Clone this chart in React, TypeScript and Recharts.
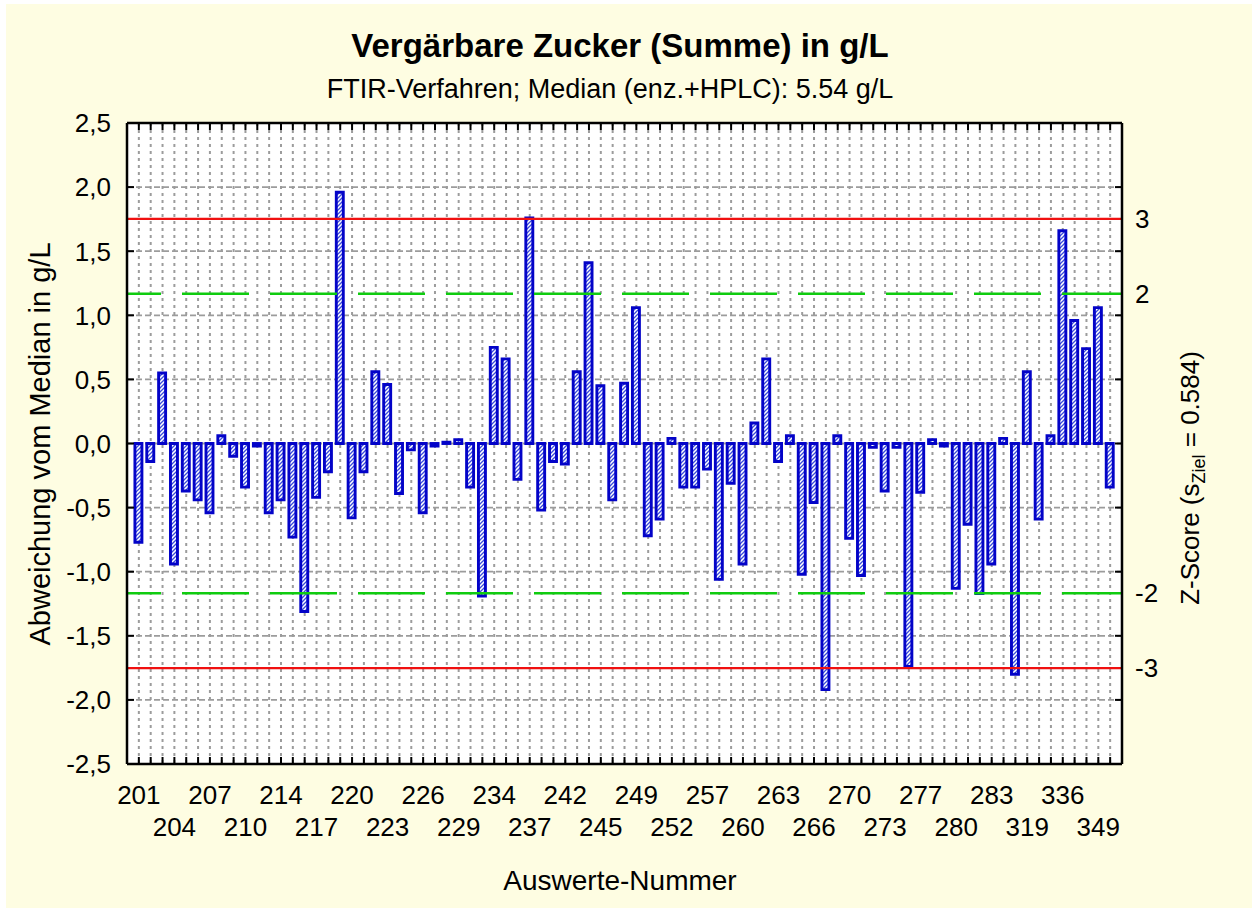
import React from 'react';
import { ComposedChart, Bar, XAxis, YAxis, CartesianGrid, ReferenceLine } from 'recharts';

const FONT = '"Liberation Sans", Arial, Helvetica, sans-serif';

// Auswerte-Nummern (every third one is printed on the axis)
const categories = [
  '201', '202', '203', '204', '205', '206', '207', '208', '209', '210',
  '211', '212', '214', '215', '216', '217', '218', '219', '220', '221',
  '222', '223', '224', '225', '226', '227', '228', '229', '231', '232',
  '234', '235', '236', '237', '239', '240', '242', '243', '244', '245',
  '247', '248', '249', '250', '251', '252', '254', '255', '257', '258',
  '259', '260', '261', '262', '263', '264', '265', '266', '268', '269',
  '270', '271', '272', '273', '275', '276', '277', '278', '279', '280',
  '281', '282', '283', '300', '310', '319', '321', '330', '336', '340',
  '345', '349', '352',
];

// Abweichung vom Median in g/L
const deviations = [
  -0.77, -0.14, 0.55, -0.94, -0.37, -0.44, -0.54, 0.06, -0.1, -0.34,
  -0.02, -0.54, -0.44, -0.73, -1.31, -0.42, -0.22, 1.96, -0.58, -0.22,
  0.56, 0.46, -0.39, -0.05, -0.54, -0.02, 0.01, 0.03, -0.34, -1.19,
  0.75, 0.66, -0.28, 1.76, -0.52, -0.14, -0.16, 0.56, 1.41, 0.45,
  -0.44, 0.47, 1.06, -0.72, -0.59, 0.04, -0.34, -0.34, -0.2, -1.06,
  -0.31, -0.94, 0.16, 0.66, -0.14, 0.06, -1.02, -0.46, -1.92, 0.06,
  -0.74, -1.03, -0.03, -0.37, -0.03, -1.74, -0.38, 0.03, -0.02, -1.13,
  -0.63, -1.17, -0.94, 0.04, -1.8, 0.56, -0.59, 0.06, 1.66, 0.96,
  0.74, 1.06, -0.34,
];

const yTicks = [-2.5, -2, -1.5, -1, -0.5, 0, 0.5, 1, 1.5, 2, 2.5];
const sZiel = 0.584;
const zActionLimits = [3, -3];
const zWarningLimits = [2, -2];

const data = categories.map((name, i) => ({ name, value: deviations[i] }));

const W = 1252;
const H = 908;
const MARGIN = { top: 93, right: 70, bottom: 114, left: 67 };
const AXIS_W = 60;
const AXIS_H = 30;
const PLOT_W = W - MARGIN.left - MARGIN.right - 2 * AXIS_W;
const PLOT_H = H - MARGIN.top - MARGIN.bottom - 2 * AXIS_H;
const BAND = PLOT_W / (categories.length + 1);

const fmt = (v: number) => v.toFixed(1).replace('.', ',');

// bottom axis tick: inward tick at bottom and top border, two-row labels
const BottomTick = (props: any) => {
  const { x, y, payload } = props;
  const i = categories.indexOf(String(payload.value));
  const top = y - PLOT_H;
  return (
    <g>
      <line x1={x} x2={x} y1={y} y2={y - 7} stroke="#000" strokeWidth={2} />
      <line x1={x} x2={x} y1={top} y2={top + 7} stroke="#000" strokeWidth={2} />
      {i % 3 === 0 && (
        <text x={x} y={y + (i % 6 === 0 ? 40 : 72)} textAnchor="middle" fontSize={26} fontFamily={FONT} fill="#000">
          {payload.value}
        </text>
      )}
    </g>
  );
};

// left axis tick: inward tick at left and right border, label on the left
const LeftTick = (props: any) => {
  const { x, y, payload } = props;
  const right = x + PLOT_W;
  return (
    <g>
      <line x1={x} x2={x + 7} y1={y} y2={y} stroke="#000" strokeWidth={2} />
      <line x1={right - 7} x2={right} y1={y} y2={y} stroke="#000" strokeWidth={2} />
      <text x={x - 16} y={y} dy="0.36em" textAnchor="end" fontSize={26} fontFamily={FONT} fill="#000">
        {fmt(payload.value)}
      </text>
    </g>
  );
};

const frame = { stroke: '#000', strokeWidth: 2.5 };
const zLabel = (z: number) => ({
  value: String(z),
  position: 'right' as const,
  offset: 13,
  fontSize: 26,
  fontFamily: FONT,
  fill: '#000',
});

export default function App() {
  return (
    <div style={{ position: 'absolute', left: 0, top: 0, width: W, height: H, background: '#fff', overflow: 'hidden' }}>
      <div style={{ position: 'absolute', left: 6, top: 4, width: W - 6, height: H - 4, background: '#FEFDE2' }} />
      <svg width={0} height={0} style={{ position: 'absolute' }}>
        <defs>
          <pattern id="hatch" patternUnits="userSpaceOnUse" width={4} height={4}>
            <rect width={4} height={4} fill="#ffffff" />
            <path d="M-1,1 l2,-2 M0,4 l4,-4 M3,5 l2,-2" stroke="#3A4BDC" strokeWidth={1.3} />
          </pattern>
        </defs>
      </svg>
      <div style={{ position: 'absolute', left: 0, top: 0 }}>
        <ComposedChart width={W} height={H} data={data} margin={MARGIN} barCategoryGap={0}>
          <CartesianGrid horizontal vertical={false} stroke="#9C9C9C" strokeWidth={1.8} strokeDasharray="6 3" fill="#ffffff" />
          <CartesianGrid horizontal={false} vertical stroke="#9C9C9C" strokeWidth={2} strokeDasharray="3 4" />
          <XAxis
            dataKey="name"
            type="category"
            interval={0}
            padding={{ left: BAND / 2, right: BAND / 2 }}
            height={AXIS_H}
            tickSize={0}
            tickMargin={0}
            tick={<BottomTick />}
            axisLine={frame}
          />
          <XAxis
            xAxisId="top"
            orientation="top"
            type="number"
            domain={[0, 1]}
            allowDataOverflow
            height={AXIS_H}
            tick={false}
            tickLine={false}
            axisLine={frame}
          />
          <YAxis
            type="number"
            domain={[-2.5, 2.5]}
            allowDataOverflow
            ticks={yTicks}
            interval={0}
            width={AXIS_W}
            tickSize={0}
            tickMargin={0}
            tick={<LeftTick />}
            axisLine={frame}
          />
          <YAxis
            yAxisId="right"
            orientation="right"
            type="number"
            domain={[-2.5, 2.5]}
            allowDataOverflow
            width={AXIS_W}
            tick={false}
            tickLine={false}
            axisLine={frame}
          />
          <Bar
            dataKey="value"
            barSize={7}
            fill="url(#hatch)"
            stroke="#0303C8"
            strokeWidth={2.9}
            isAnimationActive={false}
          />
          {zWarningLimits.map((z) => (
            <ReferenceLine
              key={'w' + z}
              y={z * sZiel}
              stroke="#0FCC0F"
              strokeWidth={2.4}
              strokeDasharray="67 21"
              strokeDashoffset={33}
              label={zLabel(z)}
            />
          ))}
          {zActionLimits.map((z) => (
            <ReferenceLine key={'a' + z} y={z * sZiel} stroke="#F01010" strokeWidth={2.4} label={zLabel(z)} />
          ))}
        </ComposedChart>
      </div>
      <svg width={W} height={H} style={{ position: 'absolute', left: 0, top: 0, pointerEvents: 'none' }}>
        <text x={620} y={57} textAnchor="middle" fontSize={33} fontWeight="bold" fontFamily={FONT} fill="#000">
          Vergärbare Zucker (Summe) in g/L
        </text>
        <text x={610} y={98} textAnchor="middle" fontSize={27} fontFamily={FONT} fill="#000">
          FTIR-Verfahren; Median (enz.+HPLC): 5.54 g/L
        </text>
        <text x={620} y={890} textAnchor="middle" fontSize={28} fontFamily={FONT} fill="#000">
          Auswerte-Nummer
        </text>
        <text transform="translate(50,444) rotate(-90)" textAnchor="middle" fontSize={29} fontFamily={FONT} fill="#000">
          Abweichung vom Median in g/L
        </text>
        <text transform="translate(1199,478) rotate(-90)" textAnchor="middle" fontSize={26} fontFamily={FONT} fill="#000">
          Z-Score (s
          <tspan fontSize={18} dy={6}>Ziel</tspan>
          <tspan dy={-6}> = 0.584)</tspan>
        </text>
      </svg>
    </div>
  );
}
